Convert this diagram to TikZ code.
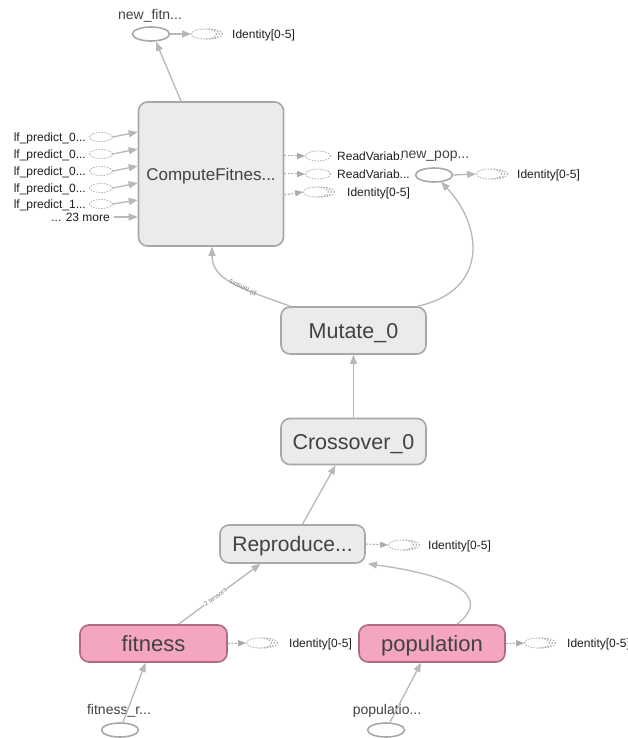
\documentclass[tikz,border=0pt]{standalone}
\usepackage{fontspec}
\setmainfont{Liberation Sans}
\usetikzlibrary{arrows.meta,shapes.geometric,calc}
\definecolor{opfill}{HTML}{EBEBEB}
\definecolor{opdraw}{HTML}{A8A8A8}
\definecolor{optext}{HTML}{424242}
\definecolor{pkfill}{HTML}{F4A5C0}
\definecolor{pkdraw}{HTML}{AE6C82}
\definecolor{edgec}{HTML}{B8B8B8}
\definecolor{serc}{HTML}{ABABAB}
\definecolor{labc}{HTML}{1E1E1E}
\newcommand\serback[2]{%
  \draw[serline] ($(#1)+(6,0)$) ellipse [x radius=#2, y radius=5pt];
  \draw[serline,fill=white] ($(#1)+(3,0)$) ellipse [x radius=#2, y radius=5pt];}
\begin{document}
\begin{tikzpicture}[x=1pt,y=-1pt,
  op/.style={draw=opdraw, fill=opfill, rounded corners=9pt, line width=1.6pt, text=optext, inner sep=0pt, text depth=0pt},
  opg/.style={op, font=\fontsize{21.5}{22}\selectfont, text height=15.4pt},
  pinkop/.style={op, draw=pkdraw, fill=pkfill, font=\fontsize{22}{22}\selectfont, text height=16pt},
  const/.style={ellipse, draw=opdraw, line width=1.6pt, minimum width=37pt, minimum height=14pt, inner sep=0pt},
  serline/.style={draw=serc, dash pattern=on 1.6pt off 1.2pt, line width=0.7pt},
  ser/.style={ellipse, serline, fill=white, minimum width=25pt, minimum height=10pt, inner sep=0pt},
  ser0/.style={ellipse, serline, fill=white, minimum width=23pt, minimum height=9pt, inner sep=0pt},
  lab/.style={font=\fontsize{12}{12}\selectfont, text=labc, inner sep=0pt},
  ctitle/.style={font=\fontsize{14}{14}\selectfont, text=optext, inner sep=0pt, anchor=base},
  edge/.style={draw=edgec, line width=1.3pt, -{Triangle[length=9pt,width=7pt]}},
  dedge/.style={draw=serc, line width=1pt, dash pattern=on 2pt off 1.5pt, -{Triangle[length=8pt,width=6pt]}},
  tinylab/.style={font=\fontsize{6.5}{7}\selectfont, text=optext!70, inner sep=0.5pt},
]
\useasboundingbox[fill=white] (0,0) rectangle (628,738);

% main ops
\node[op, font=\fontsize{17}{17}\selectfont, text height=12.2pt, minimum width=145pt, minimum height=144pt] (cf) at (211,174) {ComputeFitnes...};
\node[opg, minimum width=145pt, minimum height=47pt] (mut) at (353.5,330.5) {Mutate\_0};
\node[opg, minimum width=145pt, minimum height=46pt] (cross) at (353.5,441.5) {Crossover\_0};
\node[opg, font=\fontsize{21}{21}\selectfont, text height=15pt, minimum width=145pt, minimum height=38pt] (rep) at (292.5,544) {Reproduce...};
\node[pinkop, minimum width=147pt, minimum height=37pt] (fit) at (153.5,643.5) {fitness};
\node[pinkop, minimum width=146pt, minimum height=37pt] (pop) at (432,643.5) {population};

% constants
\node[const] (nf) at (151,34) {};
\node[ctitle] (nft) at (150,20) {new\_fitn...};
\node[const] (np) at (434,175) {};
\node[ctitle] (npt) at (435,159) {new\_pop...};
\node[const] (fr) at (120,730) {};
\node[ctitle] (frt) at (119,714) {fitness\_r...};
\node[const] (pr) at (386,730) {};
\node[ctitle] (prt) at (387,714) {populatio...};

% series outputs
\serback{204,34}{12.5pt}
\node[ser] (nfs) at (204,34) {};
\node[lab, anchor=base west] (nfsl) at (232,38.5) {Identity[0-5]};

\node[ser] (cfs1) at (318,156) {};
\node[lab, anchor=base west] (cfsl1) at (337,160.5) {ReadVariab.};
\node[ser] (cfs2) at (318,174) {};
\node[lab, anchor=base west] (cfsl2) at (337,178.5) {ReadVariab...};
\serback{316,192}{12.5pt}
\node[ser] (cfs3) at (316,192) {};
\node[lab, anchor=base west] (cfsl3) at (347,196.5) {Identity[0-5]};

\serback{489,174}{12.5pt}
\node[ser] (nps) at (489,174) {};
\node[lab, anchor=base west] (npsl) at (517,178.5) {Identity[0-5]};

\serback{401,545}{12.5pt}
\node[ser] (reps) at (401,545) {};
\node[lab, anchor=base west] (repsl) at (428,549.5) {Identity[0-5]};

\serback{259,643}{12.5pt}
\node[ser] (fits) at (259,643) {};
\node[lab, anchor=base west] (fitsl) at (289,647.5) {Identity[0-5]};

\serback{537,643}{12.5pt}
\node[ser] (pops) at (537,643) {};
\node[lab, anchor=base west] (popsl) at (567,647.5) {Identity[0-5]};

% inputs of ComputeFitness
\foreach \i/\y/\t/\d in {1/137/132/0,2/154/149/0,3/171/166/0,4/188/183/0,5/204/200/1}{
  \node[ser0] (in\i) at (101,\y) {};
  \node[lab, anchor=base east] (inl\i) at (86,\y+4.5) {lf\_predict\_\d...};
  \draw[edge] (in\i.east) -- (cf.west |- 0,\t);
}
\node[lab, anchor=base east] (more) at (110,221.5) {... 23 more};
\draw[edge] (more.east |- 0,217) ++(4,0) -- (cf.west |- 0,217);

% edges
\draw[edge] ($(cf.north)+(-30,0)$) -- ($(nf.south)+(5,0)$);
\draw[edge] (nf.east) -- (nfs.west);
\draw[dedge] (cf.east |- 0,156) -- (cfs1.west);
\draw[dedge] (cf.east |- 0,174) -- (cfs2.west);
\draw[dedge] (cf.east |- 0,195) -- (cfs3.west);
\draw[edge] (np.east) -- (nps.west);

\draw[edge] ($(mut.north west)+(10,0)$) .. controls (240,288) and (212,280) .. ($(cf.south)+(1,0)$);
\node[tinylab, rotate=154] (t10) at (243,288) {10 tensors};
\draw[edge] ($(mut.north east)+(-9,0)$) .. controls (490,290) and (482,225) .. ($(np.south)+(7,-1)$);

\draw[edge] (cross.north) -- (mut.south);
\draw[edge] ($(rep.north)+(10,0)$) -- ($(cross.south)+(-18,0)$);
\draw[dedge] (rep.east) -- (reps.west);

\draw[edge] ($(fit.north)+(25,0)$) -- ($(rep.south)+(-32,0)$)
  node[tinylab, pos=0.45, sloped, fill=white] (t2) {2 tensors};
\draw[edge] ($(pop.north)+(25,0)$) .. controls (486,602) and (472,578) .. ($(rep.south east)+(2,0)$);
\draw[dedge] (fit.east) -- (fits.west);
\draw[dedge] (pop.east) -- (pops.west);

\draw[edge] ($(fr.north)+(3,0)$) -- ($(fit.south)+(-8,0)$);
\draw[edge] ($(pr.north)+(4,0)$) -- ($(pop.south)+(-11,0)$);
\end{tikzpicture}
\end{document}
